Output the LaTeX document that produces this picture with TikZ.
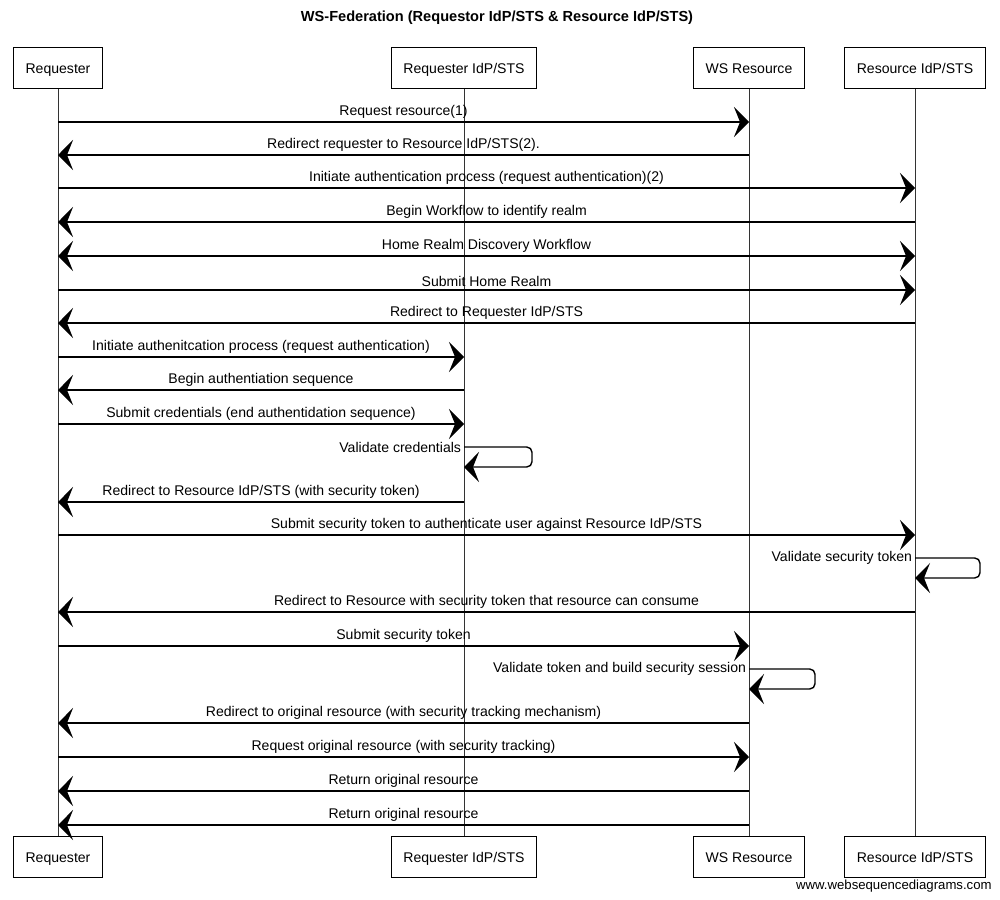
\documentclass[tikz,border=0pt]{standalone}
\usepackage{fontspec}
\setmainfont{Liberation Sans}
\usetikzlibrary{arrows.meta,positioning}

\begin{document}
\begin{tikzpicture}[x=0.02cm,y=-0.02cm,
        >={Stealth[length=3mm,width=6mm,inset=1.2mm]},
        actor/.style={draw,line width=0.6pt,minimum height=0.82cm,inner xsep=7pt,text height=1.6ex,text depth=0.4ex,font=\fontsize{8}{10}\selectfont},
        lifeline/.style={draw=black!80,line width=0.5pt},
        msg/.style={line width=0.8pt,->},
        twoway/.style={line width=0.8pt,<->},
        selfmsg/.style={line width=0.8pt,->,rounded corners=3pt},
        lbl/.style={font=\fontsize{8}{10}\selectfont,inner sep=1.5pt}]
    \useasboundingbox (0,0) rectangle (1000,899);

    % title
    \node[font=\bfseries\fontsize{8.3}{10}\selectfont] (title) at (497,18) {WS-Federation (Requestor IdP/STS \& Resource IdP/STS)};

    % participants, top and bottom
    \foreach \n/\x/\t in {req/58/Requester, rip/464/{Requester IdP/STS}, wsr/749/{WS Resource}, rsp/915/{Resource IdP/STS}}{
        \node[actor] (\n-top) at (\x,68) {\t};
        \node[actor] (\n-bot) at (\x,857) {\t};
        \draw[lifeline] (\n-top) -- (\n-bot);
    }

    % messages
    \draw[msg] (req-top |- 0,122) -- (wsr-top |- 0,122) node[lbl,midway,above] (m1) {Request resource(1)};
    \draw[msg] (wsr-top |- 0,155) -- (req-top |- 0,155) node[lbl,midway,above] (m2) {Redirect requester to Resource IdP/STS(2).};
    \draw[msg] (req-top |- 0,188) -- (rsp-top |- 0,188) node[lbl,midway,above] (m3) {Initiate authentication process (request authentication)(2)};
    \draw[msg] (rsp-top |- 0,222) -- (req-top |- 0,222) node[lbl,midway,above] (m4) {Begin Workflow to identify realm};
    \draw[twoway] (req-top |- 0,256) -- (rsp-top |- 0,256) node[lbl,midway,above] (m5) {Home Realm Discovery Workflow};
    \draw[msg] (req-top |- 0,290) -- (rsp-top |- 0,290) node[lbl,midway,above] (m6) {Submit Home Realm};
    \draw[msg] (rsp-top |- 0,323) -- (req-top |- 0,323) node[lbl,midway,above] (m7) {Redirect to Requester IdP/STS};
    \draw[msg] (req-top |- 0,357) -- (rip-top |- 0,357) node[lbl,midway,above] (m8) {Initiate authenitcation process (request authentication)};
    \draw[msg] (rip-top |- 0,390) -- (req-top |- 0,390) node[lbl,midway,above] (m9) {Begin authentiation sequence};
    \draw[msg] (req-top |- 0,424) -- (rip-top |- 0,424) node[lbl,midway,above] (m10) {Submit credentials (end authentidation sequence)};
    \draw[selfmsg] (rip-top |- 0,447) -- (532,447) -- (532,467) -- (rip-top |- 0,467);
    \node[lbl,anchor=east] (m11) at (rip-top |- 0,447) {Validate credentials};
    \draw[msg] (rip-top |- 0,502) -- (req-top |- 0,502) node[lbl,midway,above] (m12) {Redirect to Resource IdP/STS (with security token)};
    \draw[msg] (req-top |- 0,535) -- (rsp-top |- 0,535) node[lbl,midway,above] (m13) {Submit security token to authenticate user against Resource IdP/STS};
    \draw[selfmsg] (rsp-top |- 0,558) -- (980,558) -- (980,578) -- (rsp-top |- 0,578);
    \node[lbl,anchor=east] (m14) at (rsp-top |- 0,558) {Validate security token};
    \draw[msg] (rsp-top |- 0,612) -- (req-top |- 0,612) node[lbl,midway,above] (m15) {Redirect to Resource with security token that resource can consume};
    \draw[msg] (req-top |- 0,646) -- (wsr-top |- 0,646) node[lbl,midway,above] (m16) {Submit security token};
    \draw[selfmsg] (wsr-top |- 0,669) -- (815,669) -- (815,689) -- (wsr-top |- 0,689);
    \node[lbl,anchor=east] (m17) at (wsr-top |- 0,669) {Validate token and build security session};
    \draw[msg] (wsr-top |- 0,723) -- (req-top |- 0,723) node[lbl,midway,above] (m18) {Redirect to original resource (with security tracking mechanism)};
    \draw[msg] (req-top |- 0,757) -- (wsr-top |- 0,757) node[lbl,midway,above] (m19) {Request original resource (with security tracking)};
    \draw[msg] (wsr-top |- 0,791) -- (req-top |- 0,791) node[lbl,midway,above] (m20) {Return original resource};
    \draw[msg] (wsr-top |- 0,825) -- (req-top |- 0,825) node[lbl,midway,above] (m21) {Return original resource};

    % watermark
    \node[anchor=north east,inner sep=0pt,font=\fontsize{7.5}{9}\selectfont] (wsd) at (992,880) {www.websequencediagrams.com};
\end{tikzpicture}
\end{document}
